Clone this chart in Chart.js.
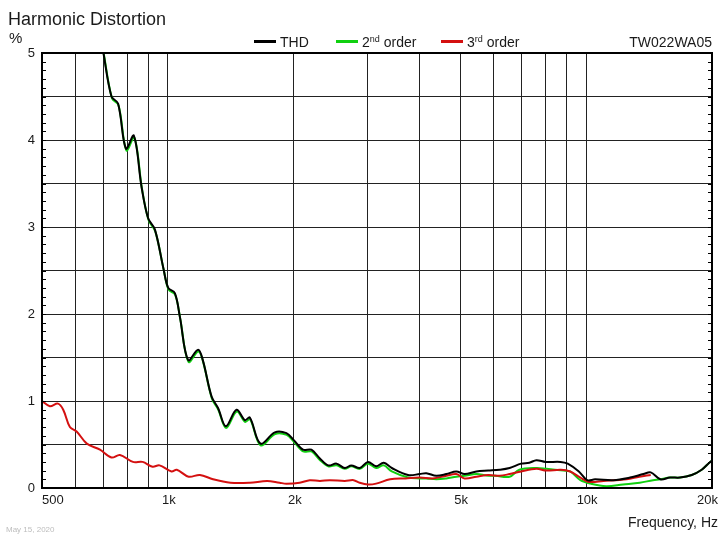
<!DOCTYPE html>
<html>
<head>
<meta charset="utf-8">
<script src="https://cdn.jsdelivr.net/npm/chart.js@4.4.1/dist/chart.umd.min.js"></script>
<style>
  body { margin: 0; background: #fff; }
  #wrap { position: relative; width: 720px; height: 536px; font-family: Arial, "Liberation Sans", sans-serif; color: #1a1a1a; }
  #wrap canvas { position: absolute; left: 0; top: 0; }
  .t { position: absolute; white-space: nowrap; }
  .leg { position: absolute; top: 35px; font-size: 14px; line-height: 14px; white-space: nowrap; }
  .leg i { display: inline-block; width: 22px; height: 3px; vertical-align: 4px; margin-right: 4px; }
  .leg sup { font-size: 9px; vertical-align: 5px; line-height: 0; }
</style>
</head>
<body>
<div id="wrap">
  <canvas id="hd" width="720" height="536"></canvas>
  <div class="t" style="left:8px;top:10px;font-size:18px;line-height:18px">Harmonic Distortion</div>
  <div class="t" style="left:9px;top:30px;font-size:15px;line-height:15px">%</div>
  <div class="leg" style="left:254px"><i style="background:#000"></i>THD</div>
  <div class="leg" style="left:336px"><i style="background:#10d010"></i>2<sup>nd</sup> order</div>
  <div class="leg" style="left:441px"><i style="background:#d41010"></i>3<sup>rd</sup> order</div>
  <div class="t" style="right:8px;top:35px;font-size:14px;line-height:14px">TW022WA05</div>
  <div class="t" style="right:2px;top:515px;font-size:14px;line-height:14px">Frequency, Hz</div>
  <div class="t" style="left:6px;top:526px;font-size:8px;line-height:8px;color:#bdbdbd">May 15, 2020</div>
</div>
<script>
// frequency axis: gridlines at every 1..9 step, labels on a few
const xGrid = [500, 600, 700, 800, 900, 1000, 2000, 3000, 4000, 5000, 6000, 7000, 8000, 9000, 10000, 20000];
const xLabels = [500, 1000, 2000, 5000, 10000, 20000];
const xLabelText = ['500', '1k', '2k', '5k', '10k', '20k'];

// THD
const thdFreq = [700, 733, 760, 794, 829, 865, 897, 931, 976, 1002, 1039, 1068, 1118, 1181, 1212, 1272, 1318, 1376,
  1459, 1528, 1570, 1665, 1802, 1921, 2000, 2104, 2204, 2309, 2418, 2531, 2648, 2745, 2876, 3008, 3147, 3281, 3431,
  3751, 4000, 4149, 4384, 4632, 4894, 5123, 5466, 5835, 6212, 6564, 6994, 7314, 7605, 8000, 8688, 9037, 9609,
  10061, 10508, 11619, 12739, 13706, 14275, 15050, 15874, 16775, 17891, 18898, 19800, 20000];
const thdVals = [5.02, 4.50, 4.42, 3.90, 4.05, 3.46, 3.10, 2.97, 2.52, 2.30, 2.24, 1.97, 1.47, 1.59, 1.47, 1.05, 0.92, 0.71,
  0.90, 0.78, 0.81, 0.51, 0.64, 0.63, 0.55, 0.44, 0.44, 0.34, 0.26, 0.28, 0.23, 0.26, 0.23, 0.30, 0.25, 0.29, 0.23,
  0.15, 0.16, 0.17, 0.14, 0.16, 0.19, 0.16, 0.19, 0.20, 0.21, 0.23, 0.28, 0.29, 0.32, 0.30, 0.30, 0.28, 0.19,
  0.09, 0.10, 0.09, 0.12, 0.16, 0.18, 0.10, 0.12, 0.12, 0.15, 0.21, 0.30, 0.31];

// 2nd order
const h2Freq = [702, 735, 762, 796, 831, 867, 899, 933, 978, 1004, 1041, 1070, 1120, 1183, 1214, 1274, 1320, 1378,
  1461, 1530, 1572, 1667, 1804, 1923, 2002, 2106, 2206, 2311, 2418, 2531, 2648, 2745, 2876, 3008, 3147, 3281, 3431,
  3751, 4000, 4149, 4384, 4632, 4894, 5123, 5466, 5776, 6079, 6564, 6926, 7605, 8040, 8830, 9160, 9690,
  10240, 11170, 12250, 13440, 14450, 15050, 15874, 16775, 17891, 18898, 19800, 20000];
const h2Vals = [5.00, 4.48, 4.40, 3.88, 4.03, 3.44, 3.08, 2.95, 2.50, 2.28, 2.22, 1.95, 1.45, 1.57, 1.45, 1.03, 0.90, 0.69,
  0.88, 0.76, 0.79, 0.49, 0.62, 0.61, 0.53, 0.42, 0.42, 0.32, 0.25, 0.26, 0.22, 0.25, 0.22, 0.28, 0.23, 0.26, 0.19,
  0.12, 0.11, 0.11, 0.10, 0.11, 0.13, 0.14, 0.16, 0.145, 0.14, 0.13, 0.21, 0.23, 0.22, 0.20, 0.19, 0.09,
  0.05, 0.02, 0.04, 0.06, 0.09, 0.10, 0.12, 0.12, 0.15, 0.21, 0.30, 0.31];

// 3rd order
const h3Freq = [500, 522, 546, 562, 583, 605, 640, 688, 733, 768, 825, 870, 919, 955, 1020, 1050, 1121, 1193, 1282,
  1411, 1570, 1726, 1850, 1921, 2066, 2184, 2309, 2438, 2648, 2780, 2876, 3008, 3147, 3400, 3700, 4000, 4300,
  4632, 4894, 5123, 5466, 5835, 6212, 6564, 6994, 7605, 8040, 8700, 9160, 9690, 10150, 11000, 12500, 13400, 14275];
const h3Vals = [1.00, 0.94, 0.97, 0.90, 0.70, 0.65, 0.51, 0.44, 0.35, 0.38, 0.30, 0.30, 0.245, 0.26, 0.19, 0.21, 0.13, 0.15, 0.10,
  0.06, 0.06, 0.08, 0.06, 0.05, 0.06, 0.09, 0.08, 0.09, 0.08, 0.09, 0.06, 0.04, 0.05, 0.10, 0.11, 0.12, 0.11,
  0.14, 0.16, 0.11, 0.13, 0.15, 0.14, 0.16, 0.19, 0.22, 0.20, 0.21, 0.19, 0.12, 0.07, 0.08, 0.10, 0.13, 0.15];

function pts(fs, vs) {
    return fs.map(function (f, i) { return { x: f, y: vs[i] }; });
}

// frame, minor ticks on both sides, and x labels drawn from the scale
const framePlugin = {
    id: 'frame',
    afterDatasetsDraw: function (chart) {
        const ctx = chart.ctx;
        const a = chart.chartArea;
        const xs = chart.scales.x;
        const ys = chart.scales.y;
        ctx.save();
        ctx.strokeStyle = '#000';
        ctx.lineWidth = 1;
        for (let k = 0; k <= 50; k++) {
            const py = Math.round(ys.getPixelForValue(k / 10)) + 0.5;
            ctx.beginPath();
            ctx.moveTo(a.left, py); ctx.lineTo(a.left + 4, py);
            ctx.moveTo(a.right - 4, py); ctx.lineTo(a.right, py);
            ctx.stroke();
        }
        ctx.lineWidth = 2;
        ctx.strokeRect(a.left, a.top, a.right - a.left, a.bottom - a.top);

        ctx.fillStyle = '#1a1a1a';
        ctx.font = '13px Arial, "Liberation Sans", sans-serif';
        ctx.textBaseline = 'alphabetic';
        xLabels.forEach(function (v, i) {
            const px = xs.getPixelForValue(v);
            if (i === 0) { ctx.textAlign = 'left'; ctx.fillText(xLabelText[i], px, 504); }
            else if (i === xLabels.length - 1) { ctx.textAlign = 'right'; ctx.fillText(xLabelText[i], px + 6, 504); }
            else { ctx.textAlign = 'center'; ctx.fillText(xLabelText[i], px + 1, 504); }
        });
        ctx.restore();
    }
};

new Chart(document.getElementById('hd').getContext('2d'), {
    type: 'scatter',
    data: {
        datasets: [
            { label: 'THD', data: pts(thdFreq, thdVals), borderColor: '#000', order: 0 },
            { label: '3rd order', data: pts(h3Freq, h3Vals), borderColor: '#d41010', order: 1 },
            { label: '2nd order', data: pts(h2Freq, h2Vals), borderColor: '#10d010', order: 2 }
        ].map(function (d) {
            return Object.assign(d, { showLine: true, borderWidth: 2, pointRadius: 0, tension: 0.35, fill: false });
        })
    },
    options: {
        responsive: false,
        animation: false,
        devicePixelRatio: 1,
        layout: { padding: { top: 53, right: 8, bottom: 48, left: 0 } },
        plugins: { legend: { display: false }, tooltip: { enabled: false } },
        scales: {
            x: {
                type: 'logarithmic',
                min: 500,
                max: 20000,
                afterBuildTicks: function (scale) {
                    scale.ticks = xGrid.map(function (v) { return { value: v }; });
                },
                afterFit: function (scale) {
                    scale.height = 0;
                    scale.paddingLeft = 0;
                    scale.paddingRight = 0;
                },
                ticks: { display: false },
                grid: { color: '#222', lineWidth: 1, drawTicks: false },
                border: { display: false }
            },
            y: {
                min: 0,
                max: 5,
                afterFit: function (scale) { scale.width = 42; },
                ticks: {
                    stepSize: 0.5,
                    padding: 7,
                    color: '#1a1a1a',
                    font: { family: 'Arial, "Liberation Sans", sans-serif', size: 13 },
                    callback: function (v) { return Math.abs(v - Math.round(v)) < 1e-6 ? String(Math.round(v)) : ''; }
                },
                grid: { color: '#222', lineWidth: 1, drawTicks: false },
                border: { display: false }
            }
        }
    },
    plugins: [framePlugin]
});
</script>
</body>
</html>
